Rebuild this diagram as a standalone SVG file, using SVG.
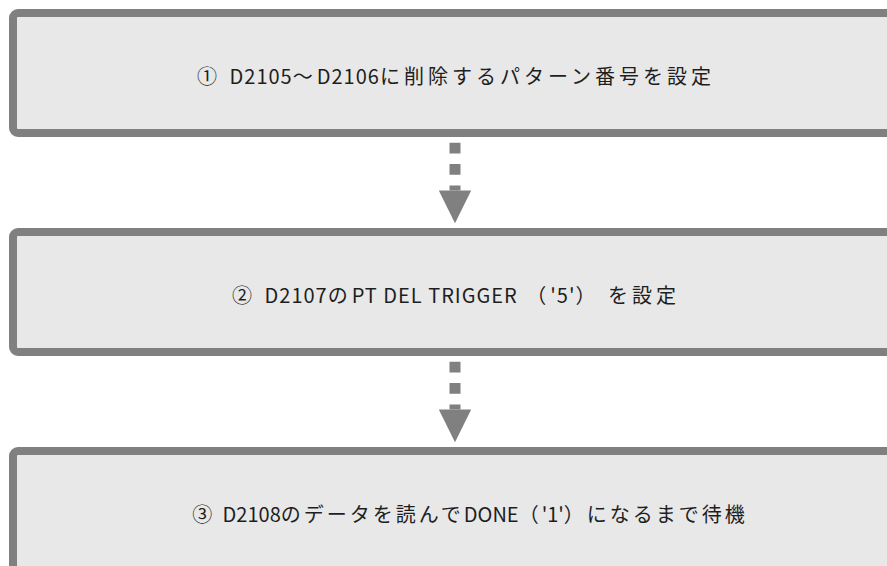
<svg xmlns="http://www.w3.org/2000/svg" width="887" height="566" viewBox="0 0 887 566">
<style>
.box{fill:#e8e8e8;stroke:#808080;stroke-width:8}
.lbl{font-family:"Noto Sans CJK JP","Noto Sans",sans-serif;font-size:20px;fill:#1e1e1e;text-anchor:middle;dominant-baseline:central;letter-spacing:4px}
.lat{letter-spacing:1px}
.tight{letter-spacing:3px}
.tight .lat{letter-spacing:0px}
.conn{fill:none;stroke:#808080;stroke-width:11;stroke-dasharray:10.7 10.7}
</style>
<defs>
<marker id="ah" markerUnits="userSpaceOnUse" markerWidth="34" markerHeight="34" viewBox="0 -17 34 34" refX="0" refY="0" orient="auto" overflow="visible">
<path d="M0,-16.2 L32.8,0 L0,16.2 Z" fill="#808080"/>
</marker>
</defs>
<rect width="887" height="566" fill="#ffffff"/>
<g id="step1">
<rect class="box" x="13" y="13" width="900" height="120" rx="5"/>
<text class="lbl" x="456" y="75">① <tspan class="lat">D2105</tspan>〜<tspan class="lat">D2106</tspan>に削除するパターン番号を設定</text>
</g>
<g id="step2">
<rect class="box" x="13" y="232" width="900" height="120" rx="5"/>
<text class="lbl" x="456" y="294">② <tspan class="lat">D2107</tspan>の<tspan class="lat">PT DEL TRIGGER</tspan> （<tspan class="lat">'5'</tspan>） を設定</text>
</g>
<g id="step3">
<rect class="box" x="13" y="451" width="900" height="120" rx="5"/>
<text class="lbl tight" x="470" y="513">③ <tspan class="lat">D2108</tspan>のデータを読んで<tspan class="lat">DONE</tspan>（<tspan class="lat">'1'</tspan>）になるまで待機</text>
</g>
<g id="connectors">
<path class="conn" d="M455 142.7 V190.5" marker-end="url(#ah)"/>
<path class="conn" d="M455 361.7 V409.5" marker-end="url(#ah)"/>
</g>
</svg>
